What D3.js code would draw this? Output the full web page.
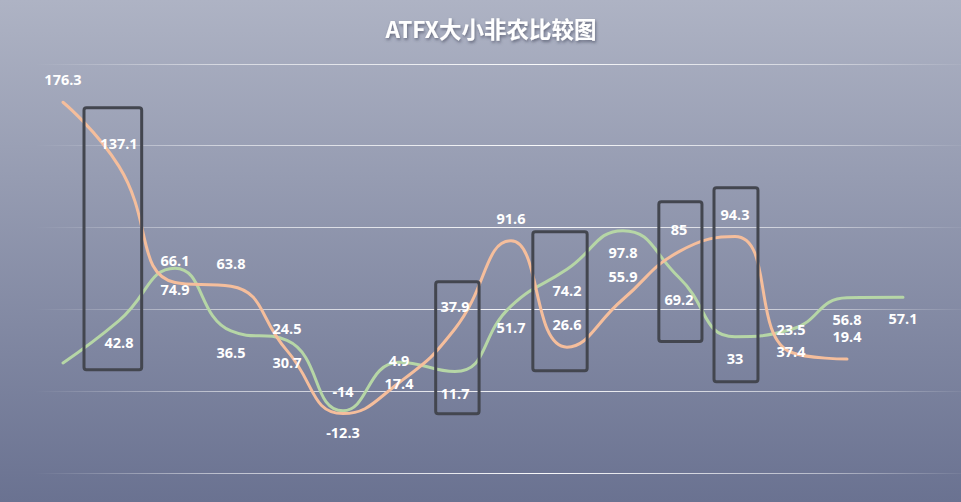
<!DOCTYPE html>
<html>
<head>
<meta charset="utf-8">
<script src="https://cdn.jsdelivr.net/npm/d3@7/dist/d3.min.js"></script>
<style>
  html, body { margin: 0; padding: 0; background: #8b92aa; }
  svg { display: block; }
</style>
</head>
<body>
<svg id="chart" width="961" height="502"></svg>
<script>
// ---- data ----
const categories = ["1","2","3","4","5","6","7","8","9","10","11","12","13","14","15","16"];
const smallNFP = [176.3, 137.1, 66.1, 63.8, 24.5, -14, 4.9, 37.9, 91.6, 26.6, 55.9, 85, 94.3, 23.5, 19.4];
const bigNFP   = [17, 42.8, 74.9, 36.5, 30.7, -12.3, 17.4, 11.7, 51.7, 74.2, 97.8, 69.2, 33, 37.4, 56.8, 57.1];
const bigNFPShowLabel = [false, true, true, true, true, true, true, true, true, true, true, true, true, true, true, true];
const yTicks = [-50, 0, 50, 100, 150, 200];
const titleText = "ATFX大小非农比较图";
// highlight boxes in data units (category index range, value range)
const boxFrom   = [0.375, 6.655, 8.39, 10.64, 11.625];
const boxTo     = [1.405, 7.43, 9.36, 11.41, 12.41];
const boxTop    = [173, 66.6, 97.2, 115.5, 124];
const boxBottom = [12.8, -14.1, 12.2, 30, 5.5];

// ---- layout ----
const W = 961, H = 502;
const svg = d3.select("#chart");
const defs = svg.append("defs");

const bg = defs.append("linearGradient").attr("id", "bg").attr("x1", 0).attr("y1", 0).attr("x2", 0).attr("y2", 1);
bg.append("stop").attr("offset", "0%").attr("stop-color", "#aeb3c4");
bg.append("stop").attr("offset", "100%").attr("stop-color", "#6a7291");
svg.append("rect").attr("width", W).attr("height", H).attr("fill", "url(#bg)");

const gl = defs.append("linearGradient").attr("id", "gridGrad").attr("gradientUnits", "userSpaceOnUse")
  .attr("x1", 35).attr("x2", 961).attr("y1", 0).attr("y2", 0);
gl.append("stop").attr("offset", "0%").attr("stop-color", "#fff").attr("stop-opacity", 0);
gl.append("stop").attr("offset", "20%").attr("stop-color", "#fff").attr("stop-opacity", 0.55);
gl.append("stop").attr("offset", "55%").attr("stop-color", "#fff").attr("stop-opacity", 0.95);
gl.append("stop").attr("offset", "85%").attr("stop-color", "#fff").attr("stop-opacity", 0.5);
gl.append("stop").attr("offset", "100%").attr("stop-color", "#fff").attr("stop-opacity", 0.05);

const x = d3.scalePoint().domain(categories).range([35, 931]).padding(0.5);
const step = x.step();
const xi = i => x(categories[0]) + i * step;
const y = d3.scaleLinear().domain([-50, 200]).range([472.5, 63.5]);

// grid
svg.append("g").selectAll("line").data(yTicks).join("line")
  .attr("x1", 35).attr("x2", 961)
  .attr("y1", d => Math.round(y(d)) + 0.5).attr("y2", d => Math.round(y(d)) + 0.5)
  .attr("stroke", "url(#gridGrad)").attr("stroke-width", 1);

// title
const sh = defs.append("filter").attr("id", "tshadow").attr("x", "-10%").attr("y", "-30%").attr("width", "120%").attr("height", "160%");
sh.append("feDropShadow").attr("dx", 1).attr("dy", 2).attr("stdDeviation", 1.5).attr("flood-color", "#3a3f55").attr("flood-opacity", 0.6);
svg.append("text").attr("x", 491).attr("y", 38).attr("text-anchor", "middle")
  .attr("font-family", "'Noto Sans CJK SC', 'Open Sans', sans-serif").attr("font-weight", "bold")
  .attr("font-size", 22.5).attr("fill", "#ffffff").attr("filter", "url(#tshadow)")
  .text(titleText);

// ECharts-like smooth path
function smoothPath(pts, smooth) {
  const p = d3.path();
  let cpx0, cpy0, prevX, prevY;
  for (let k = 0; k < pts.length; k++) {
    const [px, py] = pts[k];
    if (k === 0) { p.moveTo(px, py); cpx0 = px; cpy0 = py; prevX = px; prevY = py; continue; }
    let cpx1, cpy1, nextCpx0, nextCpy0;
    if (k < pts.length - 1) {
      const [nx, ny] = pts[k + 1];
      let vx = nx - prevX, vy = ny - prevY;
      const dx0 = px - prevX, dx1 = nx - px, dy0 = py - prevY, dy1 = ny - py;
      const lenPrev = Math.sqrt(dx0 * dx0 + dy0 * dy0);
      const lenNext = Math.sqrt(dx1 * dx1 + dy1 * dy1);
      const ratio = lenNext / (lenNext + lenPrev);
      nextCpx0 = px + vx * smooth * ratio;
      nextCpy0 = py + vy * smooth * ratio;
      nextCpx0 = Math.min(nextCpx0, Math.max(nx, px)); nextCpx0 = Math.max(nextCpx0, Math.min(nx, px));
      nextCpy0 = Math.min(nextCpy0, Math.max(ny, py)); nextCpy0 = Math.max(nextCpy0, Math.min(ny, py));
      vx = nextCpx0 - px; vy = nextCpy0 - py;
      cpx1 = px - vx * lenPrev / lenNext;
      cpy1 = py - vy * lenPrev / lenNext;
      cpx1 = Math.min(cpx1, Math.max(prevX, px)); cpx1 = Math.max(cpx1, Math.min(prevX, px));
      cpy1 = Math.min(cpy1, Math.max(prevY, py)); cpy1 = Math.max(cpy1, Math.min(prevY, py));
      vx = px - cpx1; vy = py - cpy1;
      nextCpx0 = px + vx * lenNext / lenPrev;
      nextCpy0 = py + vy * lenNext / lenPrev;
    } else {
      cpx1 = px; cpy1 = py;
    }
    p.bezierCurveTo(cpx0, cpy0, cpx1, cpy1, px, py);
    cpx0 = nextCpx0; cpy0 = nextCpy0; prevX = px; prevY = py;
  }
  return p.toString();
}

const orangePts = smallNFP.map((v, i) => [x(categories[i]), y(v)]);
const greenPts = bigNFP.map((v, i) => [x(categories[i]), y(v)]);

svg.append("path").attr("d", smoothPath(greenPts, 0.5)).attr("fill", "none")
  .attr("stroke", "#b6d6a6").attr("stroke-width", 3).attr("stroke-linecap", "round");
svg.append("path").attr("d", smoothPath(orangePts, 0.5)).attr("fill", "none")
  .attr("stroke", "#f5be9c").attr("stroke-width", 3).attr("stroke-linecap", "round");

// boxes
svg.append("g").selectAll("rect").data(boxFrom.map((f, i) => i)).join("rect")
  .attr("x", i => xi(boxFrom[i]))
  .attr("y", i => y(boxTop[i]))
  .attr("width", i => xi(boxTo[i]) - xi(boxFrom[i]))
  .attr("height", i => y(boxBottom[i]) - y(boxTop[i]))
  .attr("rx", 2.5).attr("fill", "none")
  .attr("stroke", "#43464f").attr("stroke-width", 3);

// labels
const labelFont = "'Open Sans', 'Noto Sans', sans-serif";
svg.append("g").selectAll("text").data(smallNFP.map((v, i) => ({ v, i }))).join("text")
  .attr("x", d => x(categories[d.i]))
  .attr("y", d => y(d.v) - 22)
  .attr("dy", "0.35em").attr("text-anchor", "middle")
  .attr("font-family", labelFont).attr("font-weight", "bold").attr("font-size", 14.5)
  .attr("fill", "#ffffff").text(d => d.v);
svg.append("g").selectAll("text").data(bigNFP.map((v, i) => ({ v, i })).filter(d => bigNFPShowLabel[d.i])).join("text")
  .attr("x", d => x(categories[d.i]))
  .attr("y", d => y(d.v) + 22)
  .attr("dy", "0.35em").attr("text-anchor", "middle")
  .attr("font-family", labelFont).attr("font-weight", "bold").attr("font-size", 14.5)
  .attr("fill", "#ffffff").text(d => d.v);
</script>
</body>
</html>
